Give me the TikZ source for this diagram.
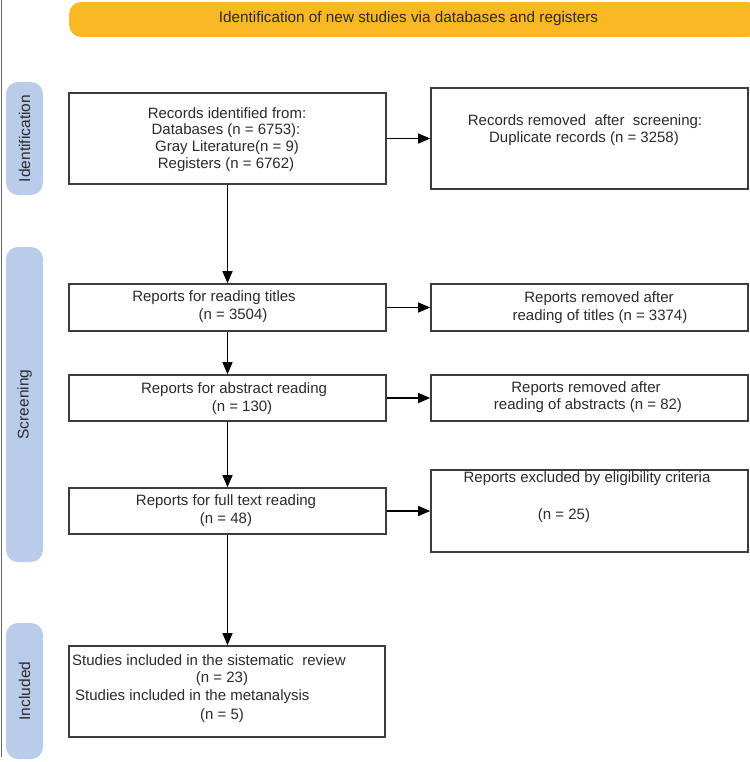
\documentclass[tikz,border=0pt]{standalone}
\usepackage{fontspec}
\setmainfont{Liberation Sans}
\usetikzlibrary{arrows.meta}
\definecolor{bannerorange}{HTML}{F9B824}
\definecolor{phaseblue}{HTML}{B9CDEB}
\definecolor{inkgray}{HTML}{2B2B2B}
\definecolor{boxgray}{HTML}{3C3C3C}
\tikzset{
  flowbox/.style={draw=boxgray, line width=1.6pt, fill=white, inner sep=0pt},
  txt/.style={text=inkgray, inner sep=0pt, font=\fontsize{15}{17}\selectfont},
  phase/.style={fill=phaseblue, rounded corners=12pt, inner sep=0pt, minimum width=37pt},
  phasetxt/.style={text=inkgray, rotate=90, inner sep=0pt, font=\fontsize{15.5}{17}\selectfont},
  flowarrow/.style={draw=black, line width=1.3pt, -{Triangle[length=12pt,width=10pt]}},
}
\begin{document}
\begin{tikzpicture}[x=1pt,y=-1pt]
\useasboundingbox (0,0) rectangle (749,762);
% left rule
\coordinate (ltop) at (1.5,0);
\coordinate (lbot) at (1.5,757);
\draw[draw=gray!80!black, line width=1.2pt] (ltop) -- (lbot);
% banner
\node[fill=bannerorange, rounded corners=12pt, minimum width=690pt, minimum height=35pt, anchor=west, inner sep=0pt] (banner) at (69,19.5) {};
\node[txt, font=\fontsize{15.3}{17}\selectfont] (bannertxt) at (408.5,18.5) {Identification of new studies via databases and registers};
% phase labels
\node[phase, minimum height=113pt] (pid) at (24.5,138.5) {};
\node[phasetxt] (pidt) at (pid.center) {Identification};
\node[phase, minimum height=315pt] (psc) at (24.5,404.5) {};
\node[phasetxt] (psct) at (psc.center) {Screening};
\node[phase, minimum height=136pt] (pin) at (24.5,691) {};
\node[phasetxt] (pint) at (pin.center) {Included};
% boxes
\node[flowbox, minimum width=317pt, minimum height=91pt] (b1) at (227.5,138.5) {};
\node[flowbox, minimum width=317pt, minimum height=101pt] (b2) at (589.5,138.5) {};
\node[flowbox, minimum width=317pt, minimum height=47pt] (b3) at (227.5,307.5) {};
\node[flowbox, minimum width=317pt, minimum height=47pt] (b4) at (589.5,307.5) {};
\node[flowbox, minimum width=317pt, minimum height=46pt] (b5) at (227.5,398) {};
\node[flowbox, minimum width=317pt, minimum height=46pt] (b6) at (589.5,398) {};
\node[flowbox, minimum width=317pt, minimum height=46pt] (b7) at (227.5,511) {};
\node[flowbox, minimum width=317pt, minimum height=82pt] (b8) at (589.5,511) {};
\node[flowbox, minimum width=316pt, minimum height=91pt] (b9) at (227,691.5) {};
% texts
\node[txt] (t1a) at (227,113) {Records identified from:};
\node[txt] (t1b) at (226,130.5) {Databases (n = 6753):};
\node[txt] (t1c) at (227,148) {Gray Literature(n = 9)};
\node[txt] (t1d) at (226,165) {Registers (n = 6762)};
\node[txt] (t2a) at (585,122) {Records removed\ \ after\ \ screening:};
\node[txt] (t2b) at (584,139) {Duplicate records (n = 3258)};
\node[txt] (t3a) at (214,298) {Reports for reading titles};
\node[txt] (t3b) at (233,316) {(n = 3504)};
\node[txt] (t4a) at (599,299) {Reports removed after};
\node[txt] (t4b) at (600,316.5) {reading of titles (n = 3374)};
\node[txt] (t5a) at (234,390) {Reports for abstract reading};
\node[txt] (t5b) at (242,408) {(n = 130)};
\node[txt] (t6a) at (586,388.5) {Reports removed after};
\node[txt] (t6b) at (588,406) {reading of abstracts (n = 82)};
\node[txt] (t7a) at (226,502) {Reports for full text reading};
\node[txt] (t7b) at (226,520) {(n = 48)};
\node[txt] (t8a) at (587,479) {Reports excluded by eligibility criteria};
\node[txt] (t8b) at (564,516) {(n = 25)};
\node[txt, anchor=west] (t9a) at (72,660) {Studies included in the sistematic\ \ review};
\node[txt] (t9b) at (222,679) {(n = 23)};
\node[txt, anchor=west] (t9c) at (75,697) {Studies included in the metanalysis};
\node[txt] (t9d) at (222,716) {(n = 5)};
% connectors
\draw[flowarrow] (b1.east) -- (b2.west);
\draw[flowarrow] (b3.east) -- (b4.west);
\draw[flowarrow] (b5.east) -- (b6.west);
\draw[flowarrow] (b7.east) -- (b8.west);
\draw[flowarrow] (b1.south) -- (b3.north);
\draw[flowarrow] (b3.south) -- (b5.north);
\draw[flowarrow] (b5.south) -- (b7.north);
\draw[flowarrow] (b7.south) -- (b7.south |- b9.north);
\end{tikzpicture}
\end{document}
